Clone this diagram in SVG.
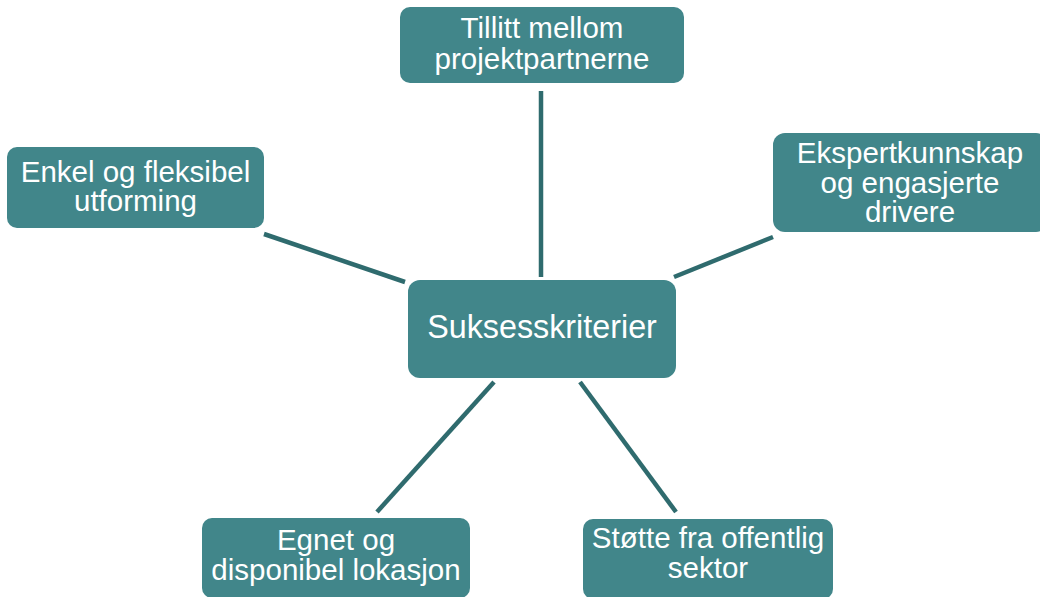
<svg xmlns="http://www.w3.org/2000/svg" width="1040" height="597" viewBox="0 0 1040 597">
<style>
.box{fill:#41868a;}
.t{font-family:"Liberation Sans",Arial,sans-serif;font-size:29.5px;fill:#ffffff;text-anchor:middle;}
.c{font-size:32.3px;}
.ln{stroke:#2f6b6e;stroke-width:4.5;fill:none;}
</style>
<rect width="1040" height="597" fill="#ffffff"/>
<g id="connectors">
<line class="ln" x1="541" y1="91" x2="541" y2="277"/>
<line class="ln" x1="264" y1="234" x2="405" y2="282"/>
<line class="ln" x1="773" y1="237" x2="674" y2="277"/>
<line class="ln" x1="494" y1="382" x2="377" y2="512"/>
<line class="ln" x1="580" y1="382" x2="676" y2="512"/>
</g>
<g id="center">
<rect class="box" x="408" y="280" width="268" height="98" rx="12"/>
<text class="t c" x="542" y="338">Suksesskriterier</text>
</g>
<g id="top">
<rect class="box" x="400" y="7" width="284" height="76" rx="10"/>
<text class="t" x="542" y="38">Tillitt mellom</text>
<text class="t" x="542" y="69">projektpartnerne</text>
</g>
<g id="left">
<rect class="box" x="7" y="147" width="257" height="81" rx="10"/>
<text class="t" x="135.5" y="182">Enkel og fleksibel</text>
<text class="t" x="135.5" y="211">utforming</text>
</g>
<g id="right">
<rect class="box" x="773" y="133" width="275" height="99" rx="12"/>
<text class="t" x="910" y="163">Ekspertkunnskap</text>
<text class="t" x="910" y="193">og engasjerte</text>
<text class="t" x="910" y="222">drivere</text>
</g>
<g id="bottomleft">
<rect class="box" x="202" y="518" width="268" height="80" rx="10"/>
<text class="t" x="336" y="550">Egnet og</text>
<text class="t" x="336" y="580">disponibel lokasjon</text>
</g>
<g id="bottomright">
<rect class="box" x="583" y="519" width="250" height="80" rx="10"/>
<text class="t" x="708" y="548">Støtte fra offentlig</text>
<text class="t" x="708" y="578">sektor</text>
</g>
</svg>
